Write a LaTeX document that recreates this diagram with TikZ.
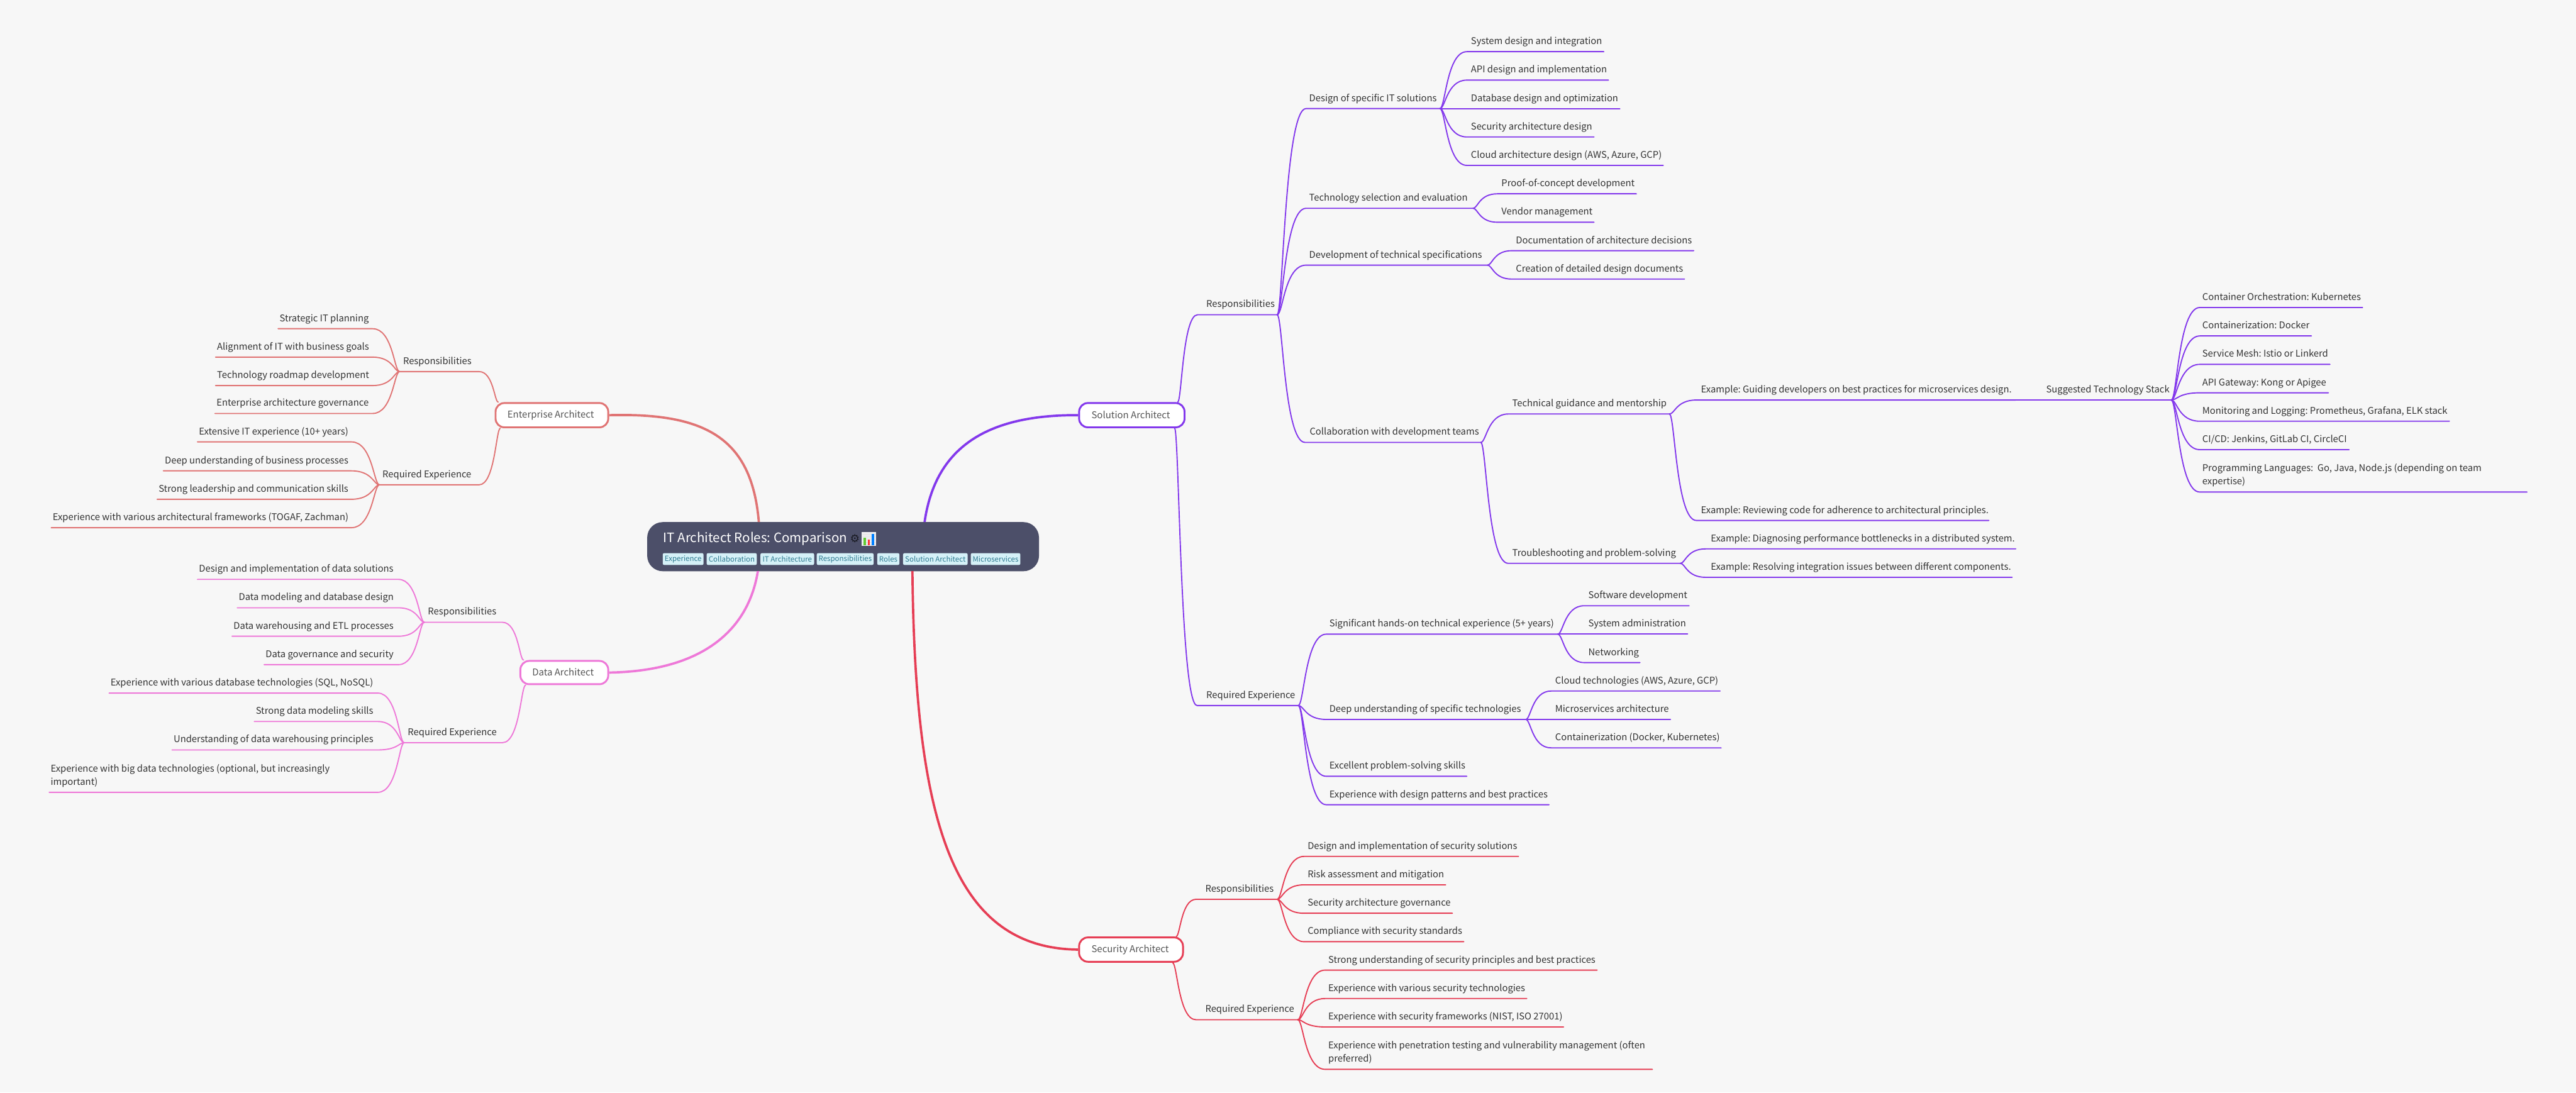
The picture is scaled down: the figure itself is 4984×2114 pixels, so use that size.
\documentclass[tikz,border=0pt]{standalone}
\usepackage{fontspec}
\setmainfont{Noto Sans CJK SC}
\newfontfamily\symfont{DejaVu Sans}
\usetikzlibrary{calc}
\definecolor{bgc}{HTML}{F7F7F7}
\definecolor{solc}{HTML}{8338EC}
\definecolor{secc}{HTML}{E63E55}
\definecolor{entc}{HTML}{E07474}
\definecolor{datc}{HTML}{EE78D8}
\definecolor{cenc}{HTML}{4C4F69}
\definecolor{tagf}{HTML}{D5F1F8}
\definecolor{tagt}{HTML}{2E7A90}
\definecolor{txtc}{HTML}{333333}
\definecolor{rootc}{HTML}{555555}
\colorlet{cur}{solc}
\frenchspacing
\tikzset{
  leafnode/.style={inner sep=0pt,outer sep=0pt,text height=20pt,text depth=14pt,text=txtc,font=\fontsize{18}{22}\selectfont},
  linkline/.style={draw=cur,line width=2.3pt,line cap=round,line join=round},
  rolebox/.style={draw=#1,line width=3.6pt,fill=white,rounded corners=17pt,inner sep=0pt,text=rootc,font=\fontsize{18.2}{22}\selectfont,anchor=north west},
  mainline/.style={draw=#1,line width=4.5pt},
  tagbox/.style={fill=tagf,rounded corners=3pt,inner sep=0pt,text=tagt,font=\fontsize{14}{18}\selectfont,minimum height=23pt,anchor=north west}
}
% \lf{name}{x0}{x1}{yline}{offset}{text}
\newcommand{\lf}[6]{%
  \pgfmathsetlengthmacro\lfw{(#3-#2)*1pt}%
  \node[leafnode,anchor=south west] (#1) at (#2,-#4) {\makebox[\lfw][l]{\hspace{#5pt}#6}};}
% two lines
\newcommand{\lftwo}[7]{%
  \pgfmathsetlengthmacro\lfw{(#3-#2)*1pt}%
  \node[leafnode,anchor=south west] (#1) at (#2,-#4) {\makebox[\lfw][l]{\hspace{#5pt}\rlap{\raisebox{25.6pt}{#6}}#7}};}
% link to the right: start point, child name
\newcommand{\linkR}[2]{%
  \draw[linkline] let \p1=#1,\p2=(#2.south west) in
    (\p1) .. controls ({\x1+0.2*(\x2-\x1)},\y1) and ({\x1+0.25*(\x2-\x1)},\y2) .. (\p2) -- (#2.south east);}
\newcommand{\linkL}[2]{%
  \draw[linkline] let \p1=#1,\p2=(#2.south east) in
    (\p1) .. controls ({\x1+0.2*(\x2-\x1)},\y1) and ({\x1+0.25*(\x2-\x1)},\y2) .. (\p2) -- (#2.south west);}
% right leaf with link from parent
\newcommand{\RR}[7][8]{\lf{#3}{#4}{#5}{#6}{#1}{#7}\linkR{(#2.south east)}{#3}}
\newcommand{\LL}[7][3]{\lf{#3}{#4}{#5}{#6}{#1}{#7}\linkL{(#2.south west)}{#3}}
\newcommand{\role}[7]{% name x0 x1 ytop ybot textoffset text
  \pgfmathsetlengthmacro\lfw{(#3-#2-4)*1pt}\pgfmathsetlengthmacro\lfh{(#5-#4-4)*1pt}%
  \pgfmathsetmacro\lfx{#2+2}\pgfmathsetmacro\lfy{-#4-2}%
  \node[rolebox=cur,minimum width=\lfw,minimum height=\lfh] (#1) at (\lfx,\lfy) {\makebox[\lfw][l]{\hspace{#6pt}\raisebox{2pt}{#7}}};}
\newcommand{\tagn}[4]{% name x0 x1 text
  \pgfmathsetlengthmacro\lfw{(#3-#2)*1pt}%
  \node[tagbox,minimum width=\lfw] (#1) at (#2,-1070) {#4};}
\begin{document}
\begin{tikzpicture}[x=1pt,y=1pt]
\useasboundingbox (0,0) rectangle (4984,-2114);
\fill[bgc] (0,0) rectangle (4984,-2114);

%% roles
\colorlet{cur}{entc}\role{ent}{955}{1177}{776}{827}{23}{Enterprise Architect}
\colorlet{cur}{datc}\role{dat}{1003}{1177}{1275}{1324}{23}{Data Architect}
\colorlet{cur}{solc}\role{sol}{2084}{2292}{776}{827}{24}{Solution Architect}
\colorlet{cur}{secc}\role{sec}{2084}{2289}{1810}{1861}{24}{Security Architect}

%% root
\node[fill=cenc,rounded corners=30pt,inner sep=0pt,minimum width=758pt,minimum height=95pt,anchor=north west] (root) at (1252,-1010) {};
\node[anchor=base west,inner sep=0pt,text=white,font=\fontsize{25}{30}\selectfont] (title) at (1283,-1049) {IT Architect Roles: Comparison};
\node[inner sep=0pt,text=black!70!cenc,font=\symfont\fontsize{21}{26}\selectfont] (gear) at (1654,-1042) {⚙};
\fill[white!92!cenc] (1667,-1029) rectangle (1695,-1056);
\foreach \yy in {1033,1037,1041,1045,1049,1053} \draw[black!12,line width=.8pt] (1668,-\yy) -- (1694,-\yy);
\fill[black!5!green!55!olive!80!white] (1671,-1040) rectangle (1675,-1055);
\fill[red!80!white] (1679,-1044) rectangle (1683,-1055);
\fill[blue!50!cyan] (1687,-1033) rectangle (1691,-1055);
\tagn{t1}{1282}{1361}{Experience}
\tagn{t2}{1367}{1464}{Collaboration}
\tagn{t3}{1471}{1575}{IT Architecture}
\tagn{t4}{1580}{1690}{Responsibilities}
\tagn{t5}{1697}{1740}{Roles}
\tagn{t6}{1747}{1872}{Solution Architect}
\tagn{t7}{1878}{1974}{Microservices}

%% main connectors, drawn over the root edge only outside it
\begin{scope}
\clip (0,0) rectangle (4984,-1010) (0,-1105) rectangle (4984,-2114);
\draw[mainline=entc] ($(root.north west)+(218,-47)$) .. controls (1470,-855) and (1380,-798) .. (ent.east);
\draw[mainline=datc] ($(root.north west)+(218,-47)$) .. controls (1470,-1200) and (1380,-1298) .. (dat.east);
\draw[mainline=solc] ($(root.north west)+(533,-47)$) .. controls (1790,-880) and (1890,-802) .. (sol.west);
\draw[mainline=secc] ($(root.north west)+(513,-47)$) .. controls (1766,-1560) and (1830,-1835) .. (sec.west);
\end{scope}

%%%%%%%%% SOLUTION
\colorlet{cur}{solc}
\lf{sr}{2317}{2471}{609}{17}{Responsibilities}
\linkR{([xshift=-15pt]sol.north east)}{sr}
\RR[6]{sr}{d1}{2527}{2786}{210}{Design of specific IT solutions}
\RR{d1}{d11}{2838}{3103}{100}{System design and integration}
\RR{d1}{d12}{2838}{3112}{155}{API design and implementation}
\RR{d1}{d13}{2838}{3134}{210}{Database design and optimization}
\RR{d1}{d14}{2838}{3084}{265}{Security architecture design}
\RR{d1}{d15}{2838}{3218}{320}{Cloud architecture design (AWS, Azure, GCP)}
\RR[6]{sr}{d2}{2527}{2850}{403}{Technology selection and evaluation}
\RR{d2}{d21}{2897}{3166}{375}{Proof-of-concept development}
\RR{d2}{d22}{2897}{3084}{430}{Vendor management}
\RR[6]{sr}{d3}{2527}{2878}{513}{Development of technical specifications}
\RR{d3}{d31}{2925}{3277}{485}{Documentation of architecture decisions}
\RR{d3}{d32}{2925}{3259}{540}{Creation of detailed design documents}
\RR[9]{sr}{d4}{2525}{2865}{856}{Collaboration with development teams}
\RR{d4}{d41}{2918}{3230}{801}{Technical guidance and mentorship}
\RR[9]{d41}{d411}{3282}{3900}{774}{Example: Guiding developers on best practices for microservices design.}
\RR[7]{d411}{d412}{3952}{4201}{774}{Suggested Technology Stack}
\RR[5]{d412}{s1}{4256}{4571}{595}{Container Orchestration: Kubernetes}
\RR[5]{d412}{s2}{4256}{4472}{650}{Containerization: Docker}
\RR[5]{d412}{s3}{4256}{4508}{705}{Service Mesh: Istio or Linkerd}
\RR[5]{d412}{s4}{4256}{4505}{760}{API Gateway: Kong or Apigee}
\RR[5]{d412}{s5}{4256}{4739}{815}{Monitoring and Logging: Prometheus, Grafana, ELK stack}
\RR[5]{d412}{s6}{4256}{4545}{870}{CI/CD: Jenkins, GitLab CI, CircleCI}
\lftwo{s7}{4256}{4889}{952}{5}{Programming Languages:\ \ Go, Java, Node.js (depending on team}{expertise)}
\linkR{(d412.south east)}{s7}
\RR[9]{d41}{d413}{3282}{3848}{1007}{Example: Reviewing code for adherence to architectural principles.}
\RR[8]{d4}{d42}{2918}{3251}{1090}{Troubleshooting and problem-solving}
\RR[10]{d42}{d421}{3300}{3900}{1062}{Example: Diagnosing performance bottlenecks in a distributed system.}
\RR[10]{d42}{d422}{3300}{3893}{1117}{Example: Resolving integration issues between different components.}

\lf{se}{2316}{2512}{1365}{18}{Required Experience}
\linkR{([xshift=-21pt]sol.south east)}{se}
\RR[6]{se}{e1}{2566}{3014}{1227}{Significant hands-on technical experience (5+ years)}
\RR{e1}{e11}{3065}{3268}{1172}{Software development}
\RR{e1}{e12}{3065}{3265}{1227}{System administration}
\RR{e1}{e13}{3065}{3173}{1282}{Networking}
\RR[6]{se}{e2}{2566}{2952}{1392}{Deep understanding of specific technologies}
\RR{e2}{e21}{3001}{3328}{1337}{Cloud technologies (AWS, Azure, GCP)}
\RR{e2}{e22}{3001}{3232}{1392}{Microservices architecture}
\RR{e2}{e23}{3001}{3330}{1447}{Containerization (Docker, Kubernetes)}
\RR[6]{se}{e3}{2566}{2838}{1502}{Excellent problem-solving skills}
\RR[6]{se}{e4}{2566}{2997}{1557}{Experience with design patterns and best practices}

%%%%%%%%% SECURITY
\colorlet{cur}{secc}
\lf{xr}{2314}{2471}{1740}{18}{Responsibilities}
\linkR{([xshift=-15pt]sec.north east)}{xr}
\RR[7]{xr}{x1}{2523}{2938}{1657}{Design and implementation of security solutions}
\RR[7]{xr}{x2}{2523}{2797}{1712}{Risk assessment and mitigation}
\RR[7]{xr}{x3}{2523}{2810}{1767}{Security architecture governance}
\RR[7]{xr}{x4}{2523}{2832}{1822}{Compliance with security standards}
\lf{xe}{2314}{2511}{1973}{18}{Required Experience}
\linkR{([xshift=-22pt]sec.south east)}{xe}
\RR[6]{xe}{y1}{2564}{3090}{1877}{Strong understanding of security principles and best practices}
\RR[6]{xe}{y2}{2564}{2954}{1932}{Experience with various security technologies}
\RR[6]{xe}{y3}{2564}{3025}{1987}{Experience with security frameworks (NIST, ISO 27001)}
\lftwo{y4}{2564}{3197}{2069}{6}{Experience with penetration testing and vulnerability management (often}{preferred)}
\linkR{(xe.south east)}{y4}

%%%%%%%%% ENTERPRISE
\colorlet{cur}{entc}
\lf{nr}{773}{927}{719}{7}{Responsibilities}
\linkL{([xshift=7pt]ent.north west)}{nr}
\LL{nr}{n1}{538}{721}{636}{Strategic IT planning}
\LL{nr}{n2}{417}{721}{691}{Alignment of IT with business goals}
\LL{nr}{n3}{417}{721}{746}{Technology roadmap development}
\LL{nr}{n4}{416}{721}{800}{Enterprise architecture governance}
\lf{ne}{734}{927}{938}{6}{Required Experience}
\linkL{([xshift=11pt]ent.south west)}{ne}
\LL{ne}{m1}{382}{680}{855}{Extensive IT experience (10+ years)}
\LL{ne}{m2}{316}{680}{911}{Deep understanding of business processes}
\LL{ne}{m3}{304}{680}{966}{Strong leadership and communication skills}
\LL{ne}{m4}{99}{680}{1021}{Experience with various architectural frameworks (TOGAF, Zachman)}

%%%%%%%%% DATA
\colorlet{cur}{datc}
\lf{pr}{821}{972}{1204}{7}{Responsibilities}
\linkL{([xshift=8pt]dat.north west)}{pr}
\LL{pr}{p1}{382}{771}{1121}{Design and implementation of data solutions}
\LL{pr}{p2}{459}{771}{1176}{Data modeling and database design}
\LL{pr}{p3}{449}{771}{1231}{Data warehousing and ETL processes}
\LL{pr}{p4}{511}{771}{1286}{Data governance and security}
\lf{pe}{782}{972}{1437}{7}{Required Experience}
\linkL{([xshift=12pt]dat.south west)}{pe}
\LL{pe}{q1}{211}{731}{1341}{Experience with various database technologies (SQL, NoSQL)}
\LL{pe}{q2}{492}{731}{1396}{Strong data modeling skills}
\LL{pe}{q3}{333}{731}{1451}{Understanding of data warehousing principles}
\lftwo{q4}{95}{731}{1533}{3}{Experience with big data technologies (optional, but increasingly}{important)}
\linkL{(pe.south west)}{q4}
\end{tikzpicture}
\end{document}
